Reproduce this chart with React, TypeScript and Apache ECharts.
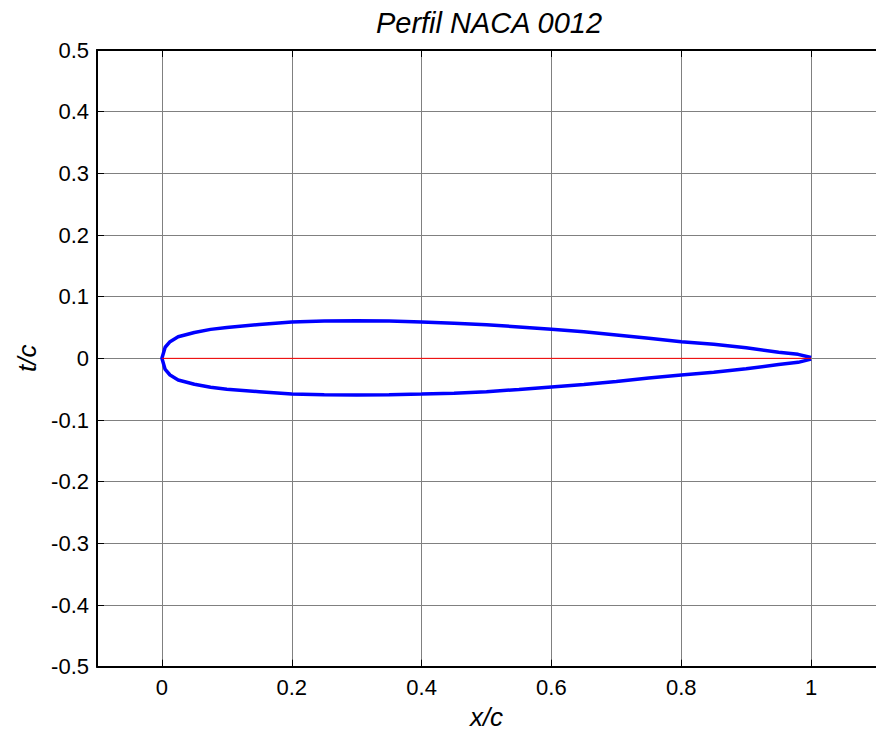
import React, { useEffect, useRef } from "react";
import * as echarts from "echarts";

// Chord positions (x/c)
const xs = [0, 0.005, 0.0125, 0.025, 0.05, 0.075, 0.1, 0.15, 0.2, 0.25, 0.3, 0.35, 0.4, 0.45, 0.5, 0.55, 0.6, 0.65, 0.7, 0.75, 0.8, 0.85, 0.9, 0.95, 0.98, 1.0];
// Upper surface (t/c)
const yUpper = [0, 0.018, 0.027, 0.035, 0.042, 0.047, 0.05, 0.055, 0.059, 0.0605, 0.061, 0.0605, 0.059, 0.057, 0.0545, 0.051, 0.047, 0.043, 0.038, 0.0325, 0.027, 0.0227, 0.0172, 0.01, 0.0065, 0.0013];
// Lower surface (t/c)
const yLower = [0, -0.018, -0.027, -0.035, -0.042, -0.047, -0.05, -0.054, -0.058, -0.059, -0.0595, -0.059, -0.058, -0.0565, -0.054, -0.0505, -0.0465, -0.0425, -0.0375, -0.032, -0.027, -0.0225, -0.017, -0.01, -0.0065, -0.0013];
// Chord line
const chordX = [0, 1];
const chordY = [0, 0];

const xTicks = [0, 0.2, 0.4, 0.6, 0.8, 1];
const titleText = "Perfil NACA 0012";
const xName = "x/c";
const yName = "t/c";

const FONT = "'Liberation Sans', Arial, Helvetica, sans-serif";

export default function App() {
  const ref = useRef<HTMLDivElement>(null);
  useEffect(() => {
    if (!ref.current) return;
    const chart = echarts.init(ref.current, undefined, { renderer: "svg" });

    const airfoil: number[][] = [];
    for (let i = xs.length - 1; i >= 0; i--) airfoil.push([xs[i], yUpper[i]]);
    for (let i = 1; i < xs.length; i++) airfoil.push([xs[i], yLower[i]]);
    const chord = chordX.map((x, i) => [x, chordY[i]]);

    const fmt = (v: number) => String(Math.round(v * 10) / 10);

    chart.setOption({
      animation: false,
      backgroundColor: "#ffffff",
      title: {
        text: titleText,
        left: 489,
        top: 8,
        padding: 0,
        textAlign: "center",
        textStyle: { fontFamily: FONT, fontSize: 29, fontStyle: "italic", fontWeight: "normal", color: "#000" },
      },
      grid: { left: 97, top: 50, width: 782.5, height: 616.7, containLabel: false },
      xAxis: [
        {
          type: "value",
          min: -0.1,
          max: 1.1,
          position: "bottom",
          name: xName,
          nameLocation: "middle",
          nameGap: 37,
          nameTextStyle: { fontFamily: FONT, fontSize: 26, fontStyle: "italic", color: "#000" },
          axisLine: { show: true, onZero: false, lineStyle: { color: "#000", width: 2 } },
          axisTick: { show: true, inside: true, length: 7, customValues: xTicks, lineStyle: { color: "#000", width: 1 } },
          axisLabel: { show: true, customValues: xTicks, formatter: fmt, margin: 10, fontFamily: FONT, fontSize: 22, color: "#000" },
          splitLine: { show: true, lineStyle: { color: "#808080", width: 1 } },
        },
        {
          type: "value",
          min: -0.1,
          max: 1.1,
          position: "top",
          axisLine: { show: true, onZero: false, lineStyle: { color: "#000", width: 2 } },
          axisTick: { show: true, inside: true, length: 7, customValues: xTicks, lineStyle: { color: "#000", width: 1 } },
          axisLabel: { show: false },
          splitLine: { show: false },
        },
      ],
      yAxis: {
        type: "value",
        min: -0.5,
        max: 0.5,
        interval: 0.1,
        name: yName,
        nameLocation: "middle",
        nameGap: 57,
        nameTextStyle: { fontFamily: FONT, fontSize: 26, fontStyle: "italic", color: "#000" },
        axisLine: { show: true, onZero: false, lineStyle: { color: "#000", width: 2 } },
        axisTick: { show: true, inside: true, length: 7, lineStyle: { color: "#000", width: 1 } },
        axisLabel: { formatter: fmt, margin: 8, fontFamily: FONT, fontSize: 22, color: "#000" },
        splitLine: { show: true, lineStyle: { color: "#808080", width: 1 } },
      },
      series: [
        {
          type: "line",
          xAxisIndex: 0,
          data: airfoil,
          showSymbol: false,
          symbol: "none",
          smooth: false,
          lineStyle: { color: "#0000ff", width: 3.5 },
          z: 3,
        },
        {
          type: "line",
          xAxisIndex: 0,
          data: chord,
          showSymbol: false,
          symbol: "none",
          lineStyle: { color: "#ff0000", width: 1 },
          z: 4,
        },
      ],
    });
    return () => chart.dispose();
  }, []);
  return <div ref={ref} style={{ position: "absolute", left: 0, top: 0, width: 876, height: 736 }} />;
}
